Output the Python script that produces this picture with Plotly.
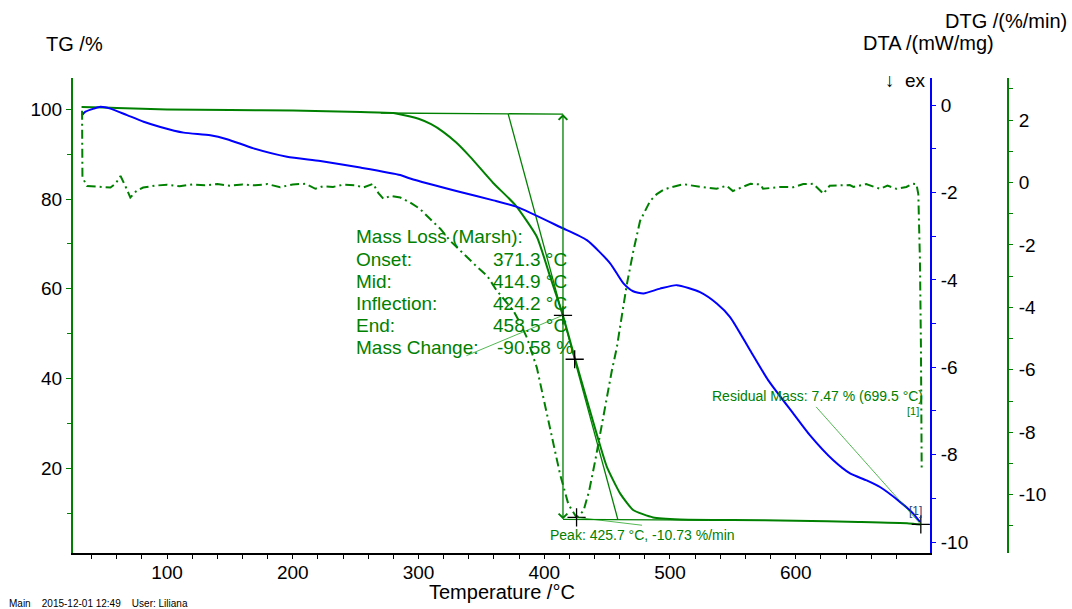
import plotly.graph_objects as go

# ---------------- data ----------------
temp_tg = [32, 40, 60, 100, 150, 200, 254, 280, 293.4, 300, 310, 319.6, 330, 341.1, 359.4,
           376.9, 394.1, 404.7, 414.8, 424.6, 443.1, 449.8, 460.3, 470.7, 486.6, 508,
           550, 600, 650, 690, 699.5]
tg_values = [100.55, 100.5, 100.3, 100.0, 99.85, 99.75, 99.4, 99.2, 98.4, 97.9, 96.7, 95.0,
             92.6, 89.4, 83.6, 78.7, 71.6, 62.7, 54.1, 44.3, 26.3, 20.3, 14.4, 10.7, 9.03,
             8.58, 8.45, 8.3, 8.0, 7.7, 7.47]

temp_dta = [32.4, 35.1, 41.7, 47.0, 54.9, 68.2, 81.4, 94.7, 113.2, 134.4, 147.7, 168.8,
            195.4, 221.9, 253.7, 285.5, 293.4, 333.2, 359.6, 378.2, 412.6, 433.9, 452.4,
            463.0, 470.7, 478.9, 492.1, 505.4, 523.9, 537.2, 547.8, 563.7, 578.2, 598.1,
            611.4, 629.9, 643.2, 656.4, 667.0, 682.9, 693.5, 698.8]
dta_values = [-0.23, -0.15, -0.08, -0.04, -0.08, -0.23, -0.38, -0.50, -0.63, -0.69, -0.78,
              -0.99, -1.18, -1.28, -1.43, -1.60, -1.68, -1.99, -2.18, -2.33, -2.79, -3.09,
              -3.62, -4.08, -4.26, -4.31, -4.20, -4.12, -4.28, -4.54, -4.85, -5.61, -6.30,
              -7.06, -7.56, -8.13, -8.43, -8.59, -8.74, -9.08, -9.35, -9.54]

temp_dtg = [32.4, 32.7, 36.4, 47, 55, 59, 63, 66.8, 70.8, 75.6, 81, 90, 100, 110, 120, 130,
            140, 150, 160, 170, 180, 190, 200, 210, 218, 224, 232, 240, 250, 256, 264, 268,
            272, 277.5, 285.5, 293.4, 301, 309.3, 317.3, 325.2, 335.6, 345, 354.6, 362,
            369, 375.5, 380.8, 386.2, 394.1, 399.4, 406, 412.6, 419.2, 425.7, 431.2, 435.7,
            440.5, 444.8, 449.8, 453.7, 457.7, 461.7, 465.7, 470.9, 476.2, 480.2, 484.2,
            489.5, 494.8, 500.1, 510.7, 524, 537, 545, 550, 564, 572, 574, 588, 598, 606,
            614, 622, 627, 633, 643, 646, 656, 667, 673, 680, 688, 693, 696, 697.5, 698.8,
            699.6, 700.2]
dtg_values = [2.30, 0.16, -0.11, -0.14, -0.16, -0.04, 0.21, -0.11, -0.48, -0.27, -0.16,
              -0.10, -0.07, -0.12, -0.06, -0.09, -0.05, -0.10, -0.06, -0.09, -0.05, -0.15,
              -0.06, -0.04, -0.20, -0.12, -0.14, -0.07, -0.09, -0.16, -0.04, -0.33, -0.52,
              -0.43, -0.48, -0.64, -0.84, -1.17, -1.48, -1.87, -2.29, -2.64, -2.99, -3.45,
              -3.79, -4.11, -4.50, -4.97, -5.93, -6.89, -8.17, -9.35, -10.31, -10.73, -10.52,
              -9.88, -8.92, -7.96, -6.89, -6.04, -5.29, -4.27, -3.26, -2.19, -1.23, -0.91,
              -0.59, -0.37, -0.23, -0.16, -0.05, -0.14, -0.20, -0.10, -0.27, -0.04, -0.06,
              -0.20, -0.14, -0.15, -0.05, -0.04, -0.36, -0.10, -0.10, -0.08, -0.14, -0.05,
              -0.20, -0.10, -0.20, -0.14, -0.04, -0.05, -0.37, -2.5, -5.29, -9.24]

# evaluation results (Marsh)
onset_t, mid_t, inflection_t, end_t = 371.3, 414.9, 424.2, 458.5
mass_change = -90.58
tg_mid, tg_inflection = 54.1, 44.3
tg_top_start, tg_top_mid = 99.2, 98.95      # upper baseline
tg_bottom_mid, tg_bottom_end = 8.6, 8.45    # lower baseline
top_line_t = [270, mid_t]
bottom_line_t = [mid_t, 530]
tangent_tg = [99.0, 8.6]
peak_t, peak_dtg = 425.7, -10.73
residual_t, residual_mass = 699.5, 7.47

x_ticks = [100, 200, 300, 400, 500, 600]
x_minor = [v for v in range(40, 700, 20) if v % 100 != 0]
tg_ticks = [20, 40, 60, 80, 100]
tg_minor = [10, 30, 50, 70, 90]
dta_ticks = [0, -2, -4, -6, -8, -10]
dta_minor = [-1, -3, -5, -7, -9]
dtg_ticks = [2, 0, -2, -4, -6, -8, -10]
dtg_minor = [3, 1, -1, -3, -5, -7, -9, -11]

GREEN = "#008000"
BLUE = "#0000FF"
LIGHT = "rgba(0,150,0,0.75)"
FONT = "Liberation Sans, Arial, sans-serif"

# pixel layout helpers (plot paper spans x 73..1008, y 78..553)
def px_x(px):
    return (px - 73) / 935.0

def px_y(py):
    return (553 - py) / 475.0

def labels(vals):
    return [str(v) for v in vals]   # plain hyphen minus like the reference

fig = go.Figure()

# TG curve
fig.add_trace(go.Scatter(x=temp_tg, y=tg_values, mode="lines",
                         line=dict(color=GREEN, width=2, shape="spline", smoothing=0.5),
                         yaxis="y"))
# Marsh construction lines
fig.add_trace(go.Scatter(x=top_line_t, y=[tg_top_start, tg_top_mid], mode="lines",
                         line=dict(color=GREEN, width=1.3), yaxis="y"))
fig.add_trace(go.Scatter(x=bottom_line_t, y=[tg_bottom_mid, tg_bottom_end], mode="lines",
                         line=dict(color=GREEN, width=1.3), yaxis="y"))
fig.add_trace(go.Scatter(x=[onset_t, end_t], y=tangent_tg, mode="lines",
                         line=dict(color=GREEN, width=1.3), yaxis="y"))
# DTA curve
fig.add_trace(go.Scatter(x=temp_dta, y=dta_values, mode="lines",
                         line=dict(color=BLUE, width=2, shape="spline", smoothing=0.6),
                         yaxis="y2"))
# DTG curve
fig.add_trace(go.Scatter(x=temp_dtg, y=dtg_values, mode="lines",
                         line=dict(color=GREEN, width=2, dash="9px,4px,2px,4px"),
                         yaxis="y3"))
# cross markers
cross = dict(symbol="cross-thin", size=13, line=dict(color="black", width=1.3))
fig.add_trace(go.Scatter(x=[mid_t, inflection_t, residual_t],
                         y=[tg_mid, tg_inflection, residual_mass],
                         mode="markers", marker=cross, yaxis="y"))
fig.add_trace(go.Scatter(x=[peak_t], y=[peak_dtg], mode="markers", marker=cross,
                         yaxis="y3"))

ann = []
def text(px, py, s, size=19, color="black", anchor="left"):
    ann.append(dict(x=px_x(px), y=px_y(py), xref="paper", yref="paper", text=s,
                    showarrow=False, xanchor=anchor, yanchor="middle",
                    font=dict(family=FONT, size=size, color=color)))

# axis titles
text(44, 44, "TG /%", 20)
text(1069, 21, "DTG /(%/min)", 20, anchor="right")
text(861, 43, "DTA /(mW/mg)", 20)
text(883, 81, "↓\u00a0\u00a0ex", 19)
text(502, 592, "Temperature /°C", 20, anchor="center")
text(7, 603, "Main\u00a0\u00a0\u00a0\u00a02015-12-01 12:49\u00a0\u00a0\u00a0\u00a0User: Liliana", 10)

# Marsh evaluation text
rows = [236.7, 259.5, 281.5, 303.5, 325.5, 347]
text(354, rows[0], "Mass Loss (Marsh):", 19, GREEN)
text(354, rows[1], "Onset:", 19, GREEN)
text(354, rows[2], "Mid:", 19, GREEN)
text(354, rows[3], "Inflection:", 19, GREEN)
text(354, rows[4], "End:", 19, GREEN)
text(354, rows[5], "Mass Change:", 19, GREEN)
text(490.5, rows[1], f"{onset_t:.1f} °C", 19, GREEN)
text(490.5, rows[2], f"{mid_t:.1f} °C", 19, GREEN)
text(490.5, rows[3], f"{inflection_t:.1f} °C", 19, GREEN)
text(490.5, rows[4], f"{end_t:.1f} °C", 19, GREEN)
text(495, rows[5], f"{mass_change:.2f} %", 19, GREEN)
text(548, 535, f"Peak: {peak_t:.1f} °C, {peak_dtg:.2f} %/min", 14, GREEN)
text(710, 396, f"Residual Mass: {residual_mass:.2f} % ({residual_t:.1f} °C)", 14, GREEN)
text(905, 411, "[1]", 11, GREEN)
text(907, 511, "[1]", 12, "#1f3f7a")

# vertical double arrow at mid temperature
for head in (tg_top_mid, tg_bottom_mid):
    ann.append(dict(x=mid_t, y=head, xref="x", yref="y", ax=mid_t, ay=tg_mid,
                    axref="x", ayref="y", text="", showarrow=True, arrowhead=4,
                    arrowsize=1.3, arrowwidth=1.3, arrowcolor=GREEN))
# leader lines
ann.append(dict(x=mid_t, y=tg_mid, xref="x", yref="y", ax=-98, ay=41, text="",
                showarrow=True, arrowhead=0, arrowwidth=0.9, arrowcolor=LIGHT))
ann.append(dict(x=peak_t, y=peak_dtg, xref="x", yref="y3", ax=67, ay=8, text="",
                showarrow=True, arrowhead=0, arrowwidth=0.9, arrowcolor=LIGHT))
ann.append(dict(x=residual_t, y=residual_mass, xref="x", yref="y", ax=-106, ay=-119,
                text="", showarrow=True, arrowhead=0, arrowwidth=0.9, arrowcolor=LIGHT))

tickfont = dict(family=FONT, size=19, color="black")

fig.update_layout(
    width=1072, height=609,
    margin=dict(l=73, r=64, t=78, b=56),
    paper_bgcolor="white", plot_bgcolor="white",
    showlegend=False,
    font=dict(family=FONT),
    annotations=ann,
    xaxis=dict(domain=[0, 857 / 935], range=[25.2, 706.8], tickmode="array",
               tickvals=x_ticks, ticktext=labels(x_ticks), ticks="outside", ticklen=4,
               tickwidth=1.3, tickcolor="black", showline=True, linecolor="black",
               linewidth=2, showgrid=False, zeroline=False, tickfont=tickfont,
               ticklabelstandoff=-3,
               minor=dict(tickmode="array", tickvals=x_minor, ticks="outside",
                          ticklen=4, tickwidth=1.3, tickcolor="black", showgrid=False)),
    yaxis=dict(range=[1.1, 107], tickmode="array", tickvals=tg_ticks,
               ticktext=labels(tg_ticks), ticks="outside",
               ticklen=5, tickwidth=1.3, tickcolor=GREEN, showline=True,
               linecolor=GREEN, linewidth=2, showgrid=False, zeroline=False,
               tickfont=tickfont, ticklabelstandoff=0,
               minor=dict(tickmode="array", tickvals=tg_minor, ticks="outside",
                          ticklen=4, tickwidth=1.3, tickcolor=GREEN, showgrid=False)),
    yaxis2=dict(range=[-10.25, 0.62], overlaying="y", side="right", anchor="x",
                tickmode="array", tickvals=dta_ticks, ticktext=labels(dta_ticks),
                ticks="outside", ticklen=4,
                tickwidth=1.3, tickcolor=BLUE, showline=True, linecolor=BLUE,
                linewidth=2, showgrid=False, zeroline=False, tickfont=tickfont,
                ticklabelstandoff=1,
                minor=dict(tickmode="array", tickvals=dta_minor, ticks="outside",
                           ticklen=4, tickwidth=1.3, tickcolor=BLUE, showgrid=False)),
    yaxis3=dict(range=[-11.87, 3.35], overlaying="y", side="right", anchor="free",
                position=1.0, tickmode="array", tickvals=dtg_ticks,
                ticktext=labels(dtg_ticks), ticks="outside",
                ticklen=4, tickwidth=1.3, tickcolor=GREEN, showline=True,
                linecolor=GREEN, linewidth=2, showgrid=False, zeroline=False,
                tickfont=tickfont, ticklabelstandoff=2,
                minor=dict(tickmode="array", tickvals=dtg_minor, ticks="outside",
                           ticklen=4, tickwidth=1.3, tickcolor=GREEN, showgrid=False)),
)

fig.write_html("out.html", config={"displayModeBar": False},
               post_script="document.body.style.margin='0';")
